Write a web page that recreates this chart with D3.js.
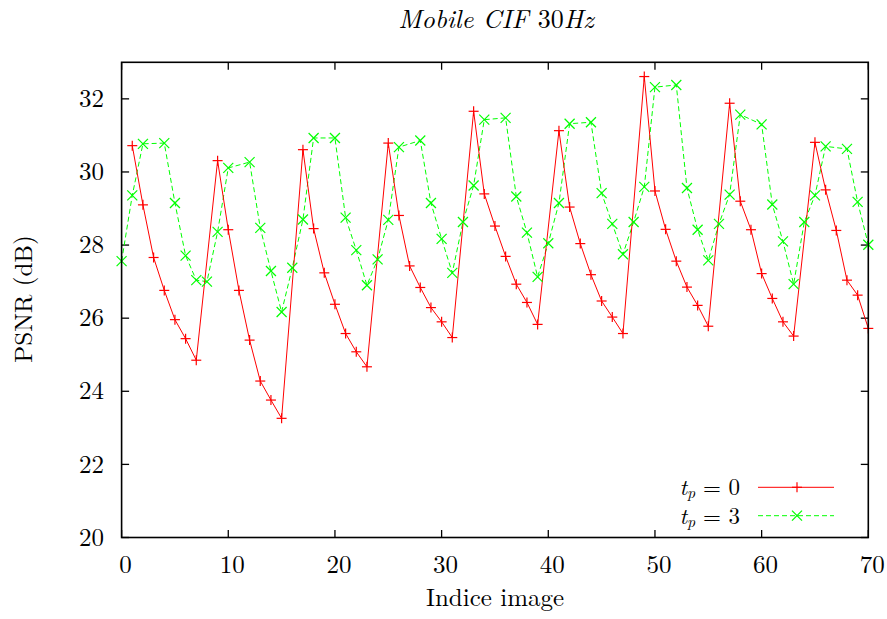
<!DOCTYPE html>
<html><head><meta charset="utf-8">
<script src="https://cdn.jsdelivr.net/npm/d3@7"></script>
<style>html,body{margin:0;padding:0;background:#fff;}</style></head>
<body>
<svg id="chart" width="887" height="619"></svg>
<script>
// ---- data ----
const redX = [1,2,3,4,5,6,7,9,10,11,12,13,14,15,17,18,19,20,21,22,23,25,26,27,28,29,30,31,33,34,35,36,37,38,39,41,42,43,44,45,46,47,49,50,51,52,53,54,55,57,58,59,60,61,62,63,65,66,67,68,69,70];
const redY = [30.72,29.10,27.66,26.76,25.96,25.44,24.85,30.31,28.42,26.76,25.40,24.28,23.76,23.26,30.61,28.45,27.24,26.38,25.58,25.08,24.67,30.79,28.81,27.43,26.84,26.29,25.90,25.47,31.66,29.40,28.52,27.69,26.93,26.43,25.83,31.13,29.04,28.04,27.19,26.47,26.03,25.58,32.61,29.48,28.43,27.56,26.85,26.35,25.78,31.88,29.20,28.42,27.22,26.54,25.90,25.51,30.81,29.51,28.40,27.04,26.63,25.72];
const greenX = [0,1,2,4,5,6,7,8,9,10,12,13,14,15,16,17,18,20,21,22,23,24,25,26,28,29,30,31,32,33,34,36,37,38,39,40,41,42,44,45,46,47,48,49,50,52,53,54,55,56,57,58,60,61,62,63,64,65,66,68,69,70];
const greenY = [27.56,29.36,30.77,30.79,29.15,27.71,27.04,27.00,28.36,30.11,30.27,28.47,27.29,26.17,27.38,28.70,30.93,30.93,28.75,27.86,26.90,27.61,28.69,30.68,30.86,29.15,28.17,27.24,28.63,29.63,31.43,31.48,29.33,28.34,27.13,28.05,29.15,31.32,31.36,29.42,28.58,27.75,28.63,29.59,32.32,32.38,29.56,28.42,27.58,28.58,29.38,31.57,31.30,29.11,28.10,26.93,28.63,29.36,30.70,30.63,29.18,28.01];
const xTicks = [0,10,20,30,40,50,60,70];
const yTicks = [20,22,24,26,28,30,32];
const seriesNames = ["0","3"];

const FONT = "'Latin Modern Roman','CMU Serif','Liberation Serif',serif";
const svg = d3.select("#chart").attr("font-family",FONT);
const L = 121.6, R = 868.3, T = 62.3, B = 537.5;
const x = d3.scaleLinear().domain([0,70]).range([L,R]);
const y = d3.scaleLinear().domain([20,33]).range([B,T]);
const fs = 25;

// ticks (inward, mirrored)
const tl = 7.5;
const g = svg.append("g").attr("stroke","#000").attr("stroke-width",1.3);
xTicks.forEach(v=>{
  g.append("line").attr("x1",x(v)).attr("x2",x(v)).attr("y1",B).attr("y2",B-tl);
  g.append("line").attr("x1",x(v)).attr("x2",x(v)).attr("y1",T).attr("y2",T+tl);
});
yTicks.forEach(v=>{
  g.append("line").attr("x1",L).attr("x2",L+tl).attr("y1",y(v)).attr("y2",y(v));
  g.append("line").attr("x1",R).attr("x2",R-tl).attr("y1",y(v)).attr("y2",y(v));
});

// tick labels
xTicks.forEach(v=>{
  svg.append("text").attr("x",x(v)+4).attr("y",572.8).attr("text-anchor","middle")
    .attr("font-size",fs).attr("font-family",FONT).text(v);
});
yTicks.forEach(v=>{
  svg.append("text").attr("x",104).attr("y",y(v)+8.2).attr("text-anchor","end")
    .attr("font-size",fs).attr("font-family",FONT).text(v);
});

// series
const redData = redX.map((d,i)=>[d,redY[i]]);
const greenData = greenX.map((d,i)=>[d,greenY[i]]);
const line = d3.line().x(d=>x(d[0])).y(d=>y(d[1]));
svg.append("path").datum(greenData).attr("d",line).attr("fill","none")
  .attr("stroke","#00ff00").attr("stroke-width",1).attr("stroke-dasharray","5,3");
svg.append("path").datum(redData).attr("d",line).attr("fill","none")
  .attr("stroke","#ff0000").attr("stroke-width",1);

const ms = 5;
function plus(sel,cx,cy){
  sel.append("line").attr("x1",cx-ms).attr("x2",cx+ms).attr("y1",cy).attr("y2",cy);
  sel.append("line").attr("x1",cx).attr("x2",cx).attr("y1",cy-ms).attr("y2",cy+ms);
}
function cross(sel,cx,cy){
  const m = 5;
  sel.append("line").attr("x1",cx-m).attr("x2",cx+m).attr("y1",cy-m).attr("y2",cy+m);
  sel.append("line").attr("x1",cx-m).attr("x2",cx+m).attr("y1",cy+m).attr("y2",cy-m);
}
const gm = svg.append("g").attr("stroke","#00ff00").attr("stroke-width",1.2);
greenData.forEach(d=>cross(gm,x(d[0]),y(d[1])));
const rm = svg.append("g").attr("stroke","#ff0000").attr("stroke-width",1.2);
redData.forEach(d=>plus(rm,x(d[0]),y(d[1])));

// frame
svg.append("rect").attr("x",L).attr("y",T).attr("width",R-L).attr("height",B-T)
  .attr("fill","none").attr("stroke","#000").attr("stroke-width",1.6);

// legend
const legY = [487.3, 515.7];
const legColors = ["#ff0000","#00ff00"];
seriesNames.forEach((n,i)=>{
  const t = svg.append("text").attr("x",740).attr("y",legY[i]+8).attr("text-anchor","end")
    .attr("font-size",23).attr("font-family",FONT);
  t.append("tspan").attr("font-style","italic").text("t");
  t.append("tspan").attr("font-style","italic").attr("font-size",16).attr("dy",3).text("p");
  t.append("tspan").attr("dy",-3).text(" = " + n);
  const lg = svg.append("g").attr("stroke",legColors[i]).attr("stroke-width",1);
  lg.append("line").attr("x1",758).attr("x2",834).attr("y1",legY[i]).attr("y2",legY[i])
    .attr("stroke-dasharray", i===1 ? "5,3" : null);
  const mk = lg.append("g").attr("stroke-width",1.2);
  if(i===0) plus(mk,797,legY[i]); else cross(mk,797,legY[i]);
});

// axis titles
svg.append("text").attr("x",495).attr("y",606).attr("text-anchor","middle")
  .attr("font-size",fs).attr("font-family",FONT).text("Indice image");
svg.append("text").attr("transform","translate(32,299) rotate(-90)").attr("text-anchor","middle")
  .attr("font-size",fs).attr("font-family",FONT).text("PSNR (dB)");

// title
const tt = svg.append("text").attr("x",496).attr("y",28).attr("text-anchor","middle")
  .attr("font-size",26).attr("font-family",FONT);
tt.append("tspan").attr("font-style","italic").text("Mobile CIF ");
tt.append("tspan").text("30");
tt.append("tspan").attr("font-style","italic").text("Hz");
</script>
</body></html>
